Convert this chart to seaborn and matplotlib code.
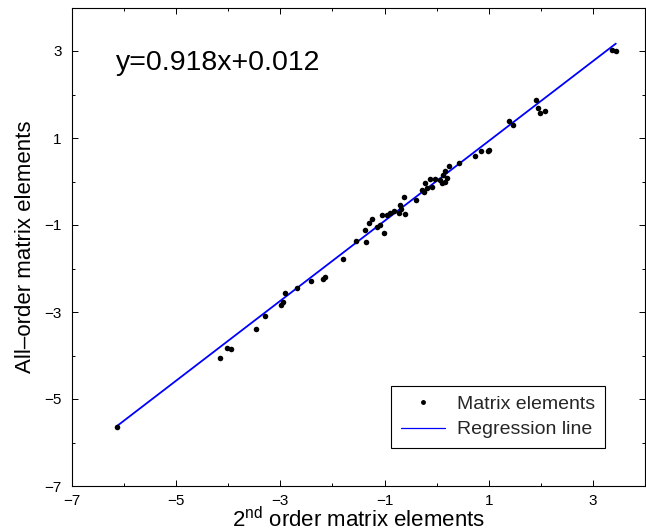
import numpy as np
import pandas as pd
import matplotlib
matplotlib.use('Agg')
import matplotlib.pyplot as plt
from matplotlib.lines import Line2D
from matplotlib.legend_handler import HandlerLine2D
from matplotlib.ticker import FixedLocator
import seaborn as sns

# values
second_order = [-6.145, -4.15, -4.02, -3.95, -3.47, -3.29, -2.99, -2.95, -2.91, -2.685,
                -2.42, -2.18, -2.14, -1.79, -1.545, -1.35, -1.38, -1.30, -1.24, -1.14,
                -1.08, -1.05, -1.015, -0.95, -0.89, -0.82, -0.73, -0.70, -0.68, -0.63,
                -0.61, -0.40, -0.28, -0.25, -0.22, -0.19, -0.12, -0.08, -0.03, 0.07,
                0.10, 0.13, 0.16, 0.16, 0.20, 0.24, 0.42, 0.74, 0.85, 0.99,
                1.01, 1.39, 1.47, 1.90, 1.95, 1.98, 2.08, 3.36, 3.44]
all_order = [-5.64, -4.05, -3.82, -3.84, -3.38, -3.09, -2.83, -2.78, -2.56, -2.44,
             -2.29, -2.23, -2.20, -1.78, -1.36, -1.39, -1.115, -0.96, -0.87, -1.05,
             -1.00, -0.77, -1.18, -0.77, -0.72, -0.68, -0.72, -0.54, -0.64, -0.35,
             -0.75, -0.43, -0.20, -0.23, -0.04, -0.16, 0.05, -0.12, 0.05, 0.03,
             -0.03, 0.15, 0.00, 0.23, 0.07, 0.36, 0.43, 0.59, 0.69, 0.70,
             0.72, 1.38, 1.31, 1.87, 1.68, 1.57, 1.63, 3.02, 3.01]
slope = 0.918
intercept = 0.012
major_ticks = [-7, -5, -3, -1, 1, 3]
minor_ticks = [-6, -4, -2, 0, 2]

sns.set_theme(style="ticks")
plt.rcParams['font.family'] = ['Liberation Sans', 'DejaVu Sans']
plt.rcParams['mathtext.fontset'] = 'custom'
plt.rcParams['mathtext.rm'] = 'Liberation Sans'
plt.rcParams['mathtext.it'] = 'Liberation Sans:italic'

df = pd.DataFrame({'x': second_order, 'y': all_order})
x_ends = np.array([df['x'].min(), df['x'].max()])
fit_df = pd.DataFrame({'x': x_ends, 'y': slope * x_ends + intercept})

fig = plt.figure(figsize=(6.46, 5.31), dpi=100)
ax = fig.add_axes([72 / 646, 1 - 486 / 531, (645 - 72) / 646, (486 - 7.5) / 531])

sns.lineplot(data=fit_df, x='x', y='y', color='#0000ff', linewidth=1.3, ax=ax, zorder=2)
sns.scatterplot(data=df, x='x', y='y', color='black', s=16, linewidth=0, ax=ax, zorder=3)

ax.set_xlim(-7, 4)
ax.set_ylim(-7, 4)
ax.set_xticks(major_ticks)
ax.set_yticks(major_ticks)
ax.xaxis.set_minor_locator(FixedLocator(minor_ticks))
ax.yaxis.set_minor_locator(FixedLocator(minor_ticks))
ax.tick_params(which='both', direction='in', top=True, right=True, colors='black',
               labelsize=11, width=0.7)
ax.tick_params(which='major', length=4, pad=7.5)
ax.tick_params(axis='x', which='major', pad=6)
ax.tick_params(which='minor', length=2.2)
for s in ax.spines.values():
    s.set_color('black')
    s.set_linewidth(0.8)

ax.set_xlabel(r'2$^{\mathrm{nd}}$ order matrix elements', fontsize=16, labelpad=-1, color='black')
ax.set_ylabel('All\u2013order matrix elements', fontsize=16, labelpad=6, color='black')

ax.text(-6.15, 2.72, 'y=0.918x+0.012', fontsize=20.5, va='center', ha='left', color='black')


class RightDot(HandlerLine2D):
    def get_xdata(self, legend, xdescent, ydescent, width, height, fontsize):
        xdata, _ = super().get_xdata(legend, xdescent, ydescent, width, height, fontsize)
        return xdata, np.array([-xdescent + width * 0.95])


dot_handle = Line2D([], [], marker='.', linestyle='none', color='black', markersize=5)
line_handle = Line2D([], [], color='#0000ff', linewidth=0.9)
leg = ax.legend([dot_handle, line_handle], ['Matrix elements', 'Regression line'],
                loc='lower right', bbox_to_anchor=(0.930, 0.079), borderaxespad=0,
                fontsize=14, frameon=True, fancybox=False, edgecolor='black',
                framealpha=1, handlelength=2.3, handletextpad=0.6, borderpad=0.5,
                labelspacing=0.4, handler_map={dot_handle: RightDot()})
leg.get_frame().set_linewidth(0.8)

fig.savefig('out.png', dpi=100)
